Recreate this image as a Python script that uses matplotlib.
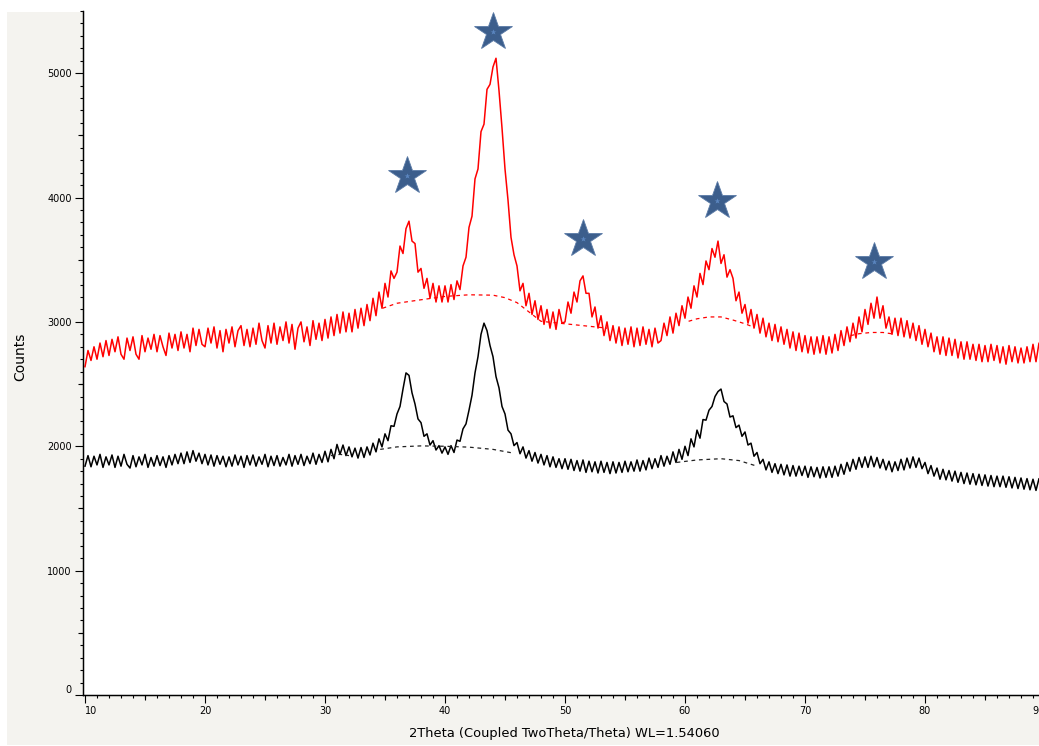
import numpy as np
import matplotlib.pyplot as plt
from matplotlib.patches import Rectangle
from matplotlib.ticker import MultipleLocator

# 2theta scan grid (deg), 0.25 step, 10 -> 90
two_theta = np.arange(10, 90.001, 0.25)

# upper pattern (red), counts, 8 values = 2 deg per row
counts_red = [
    2640, 2770, 2690, 2800, 2700, 2830, 2720, 2850,
    2730, 2860, 2760, 2880, 2740, 2700, 2870, 2770,
    2880, 2740, 2700, 2890, 2760, 2870, 2780, 2900,
    2760, 2890, 2800, 2730, 2910, 2790, 2900, 2770,
    2920, 2790, 2900, 2760, 2950, 2810, 2940, 2820,
    2800, 2950, 2830, 2960, 2790, 2930, 2760, 2940,
    2830, 2960, 2800, 2930, 2970, 2810, 2940, 2800,
    2950, 2820, 2990, 2850, 2790, 2970, 2830, 2990,
    2820, 2960, 2850, 3000, 2830, 2980, 2780, 2950,
    3000, 2840, 2960, 2810, 3010, 2860, 2990, 2850,
    3020, 2870, 3040, 2890, 3060, 2910, 3080, 2920,
    3070, 2920, 3100, 2950, 3110, 2970, 3140, 3010,
    3190, 3050, 3240, 3110, 3310, 3200, 3410, 3350,
    3400, 3610, 3550, 3750, 3810, 3650, 3630, 3400,
    3430, 3270, 3350, 3190, 3310, 3160, 3290, 3160,
    3290, 3160, 3300, 3180, 3330, 3260, 3450, 3520,
    3760, 3850, 4150, 4230, 4530, 4590, 4870, 4910,
    5050, 5120, 4860, 4560, 4230, 3980, 3680, 3540,
    3450, 3250, 3310, 3130, 3230, 3060, 3170, 3020,
    3130, 2980, 3100, 2950, 3080, 2940, 3100, 2990,
    3000, 3160, 3070, 3240, 3160, 3330, 3370, 3230,
    3230, 3040, 3120, 2950, 3050, 2890, 3000, 2850,
    2970, 2830, 2960, 2810, 2950, 2820, 2960, 2800,
    2950, 2810, 2960, 2820, 2940, 2800, 2950, 2830,
    2850, 2990, 2890, 3040, 2910, 3070, 2970, 3130,
    3030, 3200, 3110, 3290, 3200, 3390, 3300, 3490,
    3420, 3590, 3520, 3650, 3470, 3540, 3360, 3420,
    3350, 3170, 3240, 3070, 3140, 2990, 3100, 2950,
    3060, 2910, 3030, 2880, 2990, 2850, 2980, 2840,
    2960, 2820, 2940, 2790, 2920, 2770, 2910, 2760,
    2890, 2750, 2880, 2740, 2880, 2750, 2890, 2740,
    2880, 2750, 2900, 2770, 2930, 2810, 2960, 2840,
    2990, 2870, 3040, 2920, 3100, 2980, 3150, 3030,
    3200, 3030, 3130, 2950, 3040, 2900, 3030, 2890,
    3030, 2880, 3010, 2870, 2990, 2850, 2970, 2820,
    2940, 2800, 2910, 2760, 2880, 2740, 2880, 2730,
    2870, 2730, 2860, 2710, 2840, 2700, 2840, 2700,
    2820, 2690, 2820, 2680, 2810, 2680, 2820, 2690,
    2810, 2670, 2800, 2660, 2810, 2680, 2800, 2670,
    2790, 2670, 2800, 2680, 2820, 2680, 2830, 2700,
    2790,
]

# lower pattern (black)
counts_black = [
    1840, 1925, 1835, 1920, 1850, 1935, 1830, 1915,
    1850, 1930, 1830, 1920, 1840, 1935, 1855, 1825,
    1925, 1835, 1915, 1850, 1935, 1830, 1910, 1840,
    1925, 1845, 1915, 1830, 1925, 1850, 1935, 1860,
    1945, 1860, 1955, 1870, 1965, 1880, 1945, 1860,
    1935, 1850, 1930, 1840, 1925, 1855, 1920, 1835,
    1915, 1840, 1930, 1850, 1920, 1830, 1925, 1850,
    1930, 1840, 1915, 1855, 1935, 1835, 1920, 1845,
    1925, 1840, 1910, 1850, 1935, 1840, 1925, 1855,
    1935, 1845, 1920, 1860, 1945, 1855, 1935, 1870,
    1960, 1875, 1975, 1900, 2015, 1935, 2010, 1925,
    1995, 1915, 1985, 1905, 1990, 1910, 1995, 1930,
    2025, 1955, 2060, 1995, 2100, 2045, 2165, 2160,
    2260, 2320, 2460, 2590, 2570, 2430, 2340, 2220,
    2190, 2080, 2100, 2010, 2045, 1970, 2005, 1945,
    1995, 1935, 2005, 1950, 2050, 2040, 2140, 2180,
    2290, 2410, 2590, 2720, 2900, 2990, 2930, 2810,
    2720, 2560, 2470, 2320, 2260, 2130, 2100, 2005,
    2030, 1940, 1995, 1905, 1965, 1880, 1950, 1865,
    1935, 1850, 1925, 1835, 1915, 1830, 1900, 1820,
    1900, 1815, 1895, 1805, 1885, 1800, 1890, 1790,
    1880, 1795, 1875, 1785, 1880, 1790, 1870, 1780,
    1875, 1785, 1870, 1790, 1880, 1795, 1875, 1800,
    1890, 1800, 1885, 1810, 1905, 1820, 1900, 1830,
    1925, 1840, 1920, 1855, 1955, 1870, 1975, 1895,
    2000, 1925, 2060, 1995, 2130, 2065, 2215, 2210,
    2290, 2320, 2400, 2440, 2460, 2360, 2340, 2235,
    2245, 2150, 2170, 2080, 2115, 2010, 2025, 1920,
    1950, 1860, 1895, 1810, 1875, 1790, 1860, 1780,
    1855, 1770, 1850, 1760, 1845, 1760, 1840, 1765,
    1840, 1750, 1835, 1755, 1830, 1745, 1835, 1750,
    1835, 1750, 1840, 1760, 1855, 1775, 1870, 1800,
    1895, 1815, 1910, 1830, 1915, 1830, 1920, 1835,
    1910, 1825, 1895, 1810, 1880, 1795, 1875, 1805,
    1895, 1810, 1905, 1825, 1915, 1830, 1905, 1820,
    1870, 1780, 1845, 1760, 1825, 1735, 1815, 1730,
    1805, 1720, 1800, 1710, 1790, 1700, 1785, 1695,
    1780, 1690, 1775, 1685, 1770, 1680, 1765, 1675,
    1760, 1675, 1760, 1670, 1755, 1665, 1750, 1660,
    1745, 1655, 1740, 1650, 1735, 1645, 1740, 1650,
    1690,
]

# dashed background curves under the peaks
bg_red_1_x = [34.8, 36, 38, 40, 42, 44, 45, 46, 47, 48, 50.5, 53.5]
bg_red_1_y = [3110, 3150, 3178, 3205, 3218, 3215, 3195, 3155, 3080, 3005, 2980, 2950]
bg_red_2_x = [60.3, 61, 62, 63, 64, 65, 65.8]
bg_red_2_y = [3005, 3025, 3040, 3040, 3015, 2985, 2955]
bg_red_3_x = [73.8, 74.5, 75.5, 76.5, 77.2]
bg_red_3_y = [2890, 2905, 2915, 2915, 2905]
bg_black_1_x = [30.5, 31.25, 32]
bg_black_1_y = [1925, 1935, 1925]
bg_black_2_x = [34.6, 36, 38, 40, 42, 44, 45.7]
bg_black_2_y = [1975, 1995, 2003, 2000, 1993, 1975, 1945]
bg_black_3_x = [59.3, 61, 63, 64.5, 66]
bg_black_3_y = [1870, 1890, 1900, 1885, 1840]

# star markers above the indexed peaks
star_x = [36.8, 44.0, 51.5, 62.7, 75.75]
star_y = [4170, 5330, 3670, 3970, 3485]

W, H = 1039, 746
fig = plt.figure(figsize=(W / 100, H / 100), dpi=100, facecolor='white')
fig.add_artist(Rectangle((7 / W, 1 / H), 1, 733 / H, transform=fig.transFigure,
                         facecolor='#f4f3ef', edgecolor='none', zorder=-5))
ax = fig.add_axes([82.6 / W, 51 / H, 962.4 / W, 684 / H])
ax.set_facecolor('white')

ax.plot(two_theta, counts_red, color='#ff0000', lw=1.1)
ax.plot(two_theta, counts_black, color='black', lw=1.1)
for bx, by in [(bg_red_1_x, bg_red_1_y), (bg_red_2_x, bg_red_2_y), (bg_red_3_x, bg_red_3_y)]:
    ax.plot(bx, by, color='#ff0000', lw=0.9, ls=(0, (3, 3)))
for bx, by in [(bg_black_1_x, bg_black_1_y), (bg_black_2_x, bg_black_2_y), (bg_black_3_x, bg_black_3_y)]:
    ax.plot(bx, by, color='#222222', lw=0.9, ls=(0, (3, 3)))

ax.plot(star_x, star_y, ls='none', marker='*', markersize=29,
        markerfacecolor='#3c5e8c', markeredgecolor='#5a7aa6', markeredgewidth=0.6, zorder=5)
ax.plot(star_x, star_y, ls='none', marker='*', markersize=4,
        markerfacecolor='#5b86c0', markeredgecolor='none', zorder=6)

ax.set_xlim(9.8, 90)
ax.set_ylim(0, 5500)
for s in ['top', 'right']:
    ax.spines[s].set_visible(False)
for s in ['left', 'bottom']:
    ax.spines[s].set_linewidth(1.0)

ax.set_xticks(range(10, 91, 10))
ax.set_yticks(range(0, 5001, 1000))
ax.xaxis.set_minor_locator(MultipleLocator(1))
ax.yaxis.set_minor_locator(MultipleLocator(100))
ax.tick_params(which='major', direction='out', length=5.8, width=0.8, labelsize=7, pad=2)
ax.tick_params(which='minor', direction='out', length=2.4, width=0.8)

# medium ticks at the half decades
sx = ax.secondary_xaxis('bottom')
sx.set_xticks(range(15, 90, 10))
sx.set_xticklabels([])
sx.tick_params(direction='out', length=3.8, width=0.8)
sy = ax.secondary_yaxis('left')
sy.set_yticks(range(500, 5500, 1000))
sy.set_yticklabels([])
sy.tick_params(direction='out', length=3.8, width=0.8)

xl = ax.get_xticklabels()
xl[0].set_ha('left')
xl[-1].set_ha('right')
ax.get_yticklabels()[0].set_va('bottom')

fig.text(564 / W, 1 - 733 / H, '2Theta (Coupled TwoTheta/Theta) WL=1.54060',
         ha='center', va='center', fontsize=9.4)
fig.text(20 / W, 1 - 357 / H, 'Counts', rotation=90, ha='center', va='center', fontsize=10)

fig.savefig('out.png', dpi=100, facecolor=fig.get_facecolor())
